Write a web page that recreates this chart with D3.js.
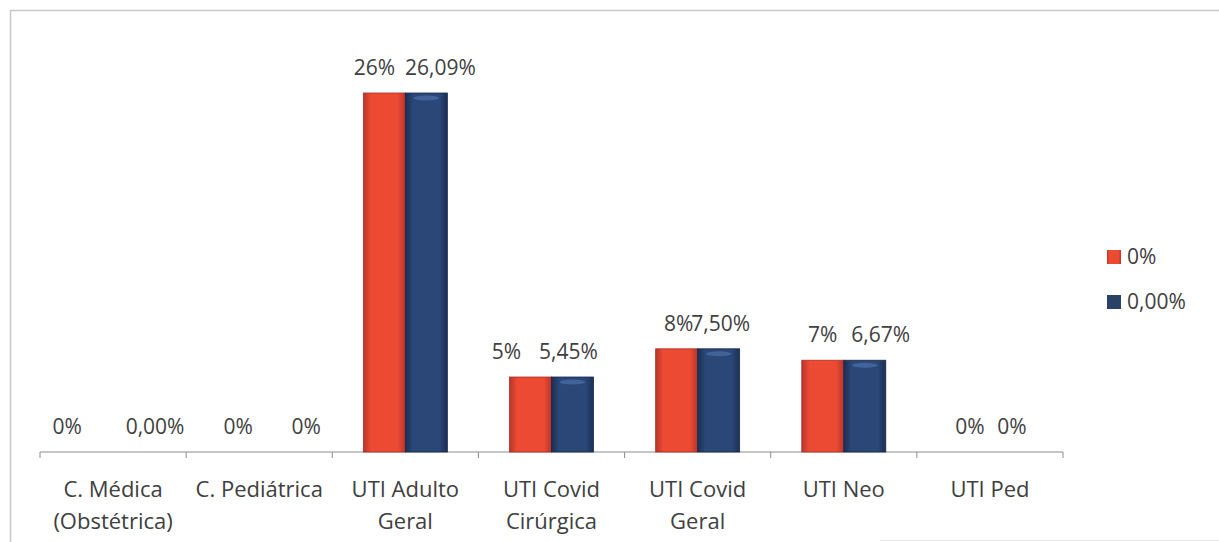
<!DOCTYPE html>
<html>
<head>
<meta charset="utf-8">
<script src="https://cdn.jsdelivr.net/npm/d3@7"></script>
<style>
  body { margin: 0; background: #fff; }
  svg text { font-family: "Open Sans", "Liberation Sans", sans-serif; fill: #404040; }
</style>
</head>
<body>
<div id="chartDiv"></div>
<script>
// categorias (eixo x)
const categories = [
  ["C. Médica", "(Obstétrica)"],
  ["C. Pediátrica"],
  ["UTI Adulto", "Geral"],
  ["UTI Covid", "Cirúrgica"],
  ["UTI Covid", "Geral"],
  ["UTI Neo"],
  ["UTI Ped"]
];
// series
const seriesNames = ["0%", "0,00%"];
const redValues = [0, 0, 26.09, 5.45, 7.50, 6.67, 0];
const blueValues = [0, 0, 26.09, 5.45, 7.50, 6.67, 0];
const redLabels = ["0%", "0%", "26%", "5%", "8%", "7%", "0%"];
const blueLabels = ["0,00%", "0%", "26,09%", "5,45%", "7,50%", "6,67%", "0%"];

const W = 1219, H = 542;
const margin = {top: 93, left: 40, right: 156, bottom: 90};

let svg = d3.select("#chartDiv").append("svg")
  .attr("width", W)
  .attr("height", H);

// gradientes estilo excel
const defs = svg.append("defs");
function grad(id, edge, mid) {
  let g = defs.append("linearGradient").attr("id", id)
    .attr("x1", 0).attr("x2", 1).attr("y1", 0).attr("y2", 0);
  g.append("stop").attr("offset", "0%").attr("stop-color", edge);
  g.append("stop").attr("offset", "18%").attr("stop-color", mid);
  g.append("stop").attr("offset", "82%").attr("stop-color", mid);
  g.append("stop").attr("offset", "100%").attr("stop-color", edge);
}
grad("gRed", "#b8352a", "#ec4a33");
grad("gBlue", "#1b2f52", "#2a4778");

// moldura
svg.append("path")
  .attr("d", `M10.5,${H} V10.5 H${W}`)
  .attr("fill", "none").attr("stroke", "#c8c8c8").attr("stroke-width", 1.5);
svg.append("line")
  .attr("x1", 880).attr("x2", W).attr("y1", 540.5).attr("y2", 540.5)
  .attr("stroke", "#e6e6e6");

let x = d3.scaleBand()
  .domain(d3.range(categories.length))
  .range([margin.left, W - margin.right])
  .paddingInner(0).paddingOuter(0);

let y = d3.scaleLinear()
  .domain([0, d3.max(blueValues)])
  .range([H - margin.bottom, margin.top]);

let inner = d3.scaleBand()
  .domain([0, 1])
  .range([0, x.bandwidth()])
  .paddingInner(0)
  .paddingOuter(0.74);

// eixo x
let xAxis = d3.axisBottom(x).tickSize(6).tickFormat("");
let gx = svg.append("g")
  .attr("transform", `translate(0, ${y(0)})`)
  .call(xAxis);
gx.select(".domain").attr("stroke", "#8c8c8c").attr("d", `M${x.range()[0]},6V0H${x.range()[1]}V6`);
gx.selectAll(".tick").remove();
// divisores entre categorias
gx.selectAll("line.div")
  .data(d3.range(1, categories.length))
  .enter().append("line")
  .attr("x1", d => x(d)).attr("x2", d => x(d))
  .attr("y1", 0).attr("y2", 6)
  .attr("stroke", "#8c8c8c");

// rotulos das categorias
svg.selectAll("text.cat")
  .data(categories)
  .enter().append("text")
  .attr("class", "cat")
  .attr("text-anchor", "middle")
  .attr("font-size", 22)
  .attr("x", (d, i) => x(i) + x.bandwidth() / 2)
  .attr("y", 497)
  .each(function (d) {
    d3.select(this).selectAll("tspan").data(d).enter().append("tspan")
      .attr("x", d3.select(this).attr("x"))
      .attr("dy", (t, j) => j === 0 ? 0 : 32)
      .text(t => t);
  });

const series = [
  {vals: redValues, labels: redLabels, fill: "url(#gRed)", key: 0},
  {vals: blueValues, labels: blueLabels, fill: "url(#gBlue)", key: 1}
];
// deslocamentos manuais dos rotulos (como no excel)
const nudge = [[-25, 21], [0, 26], [-10, 14], [-24, -4], [2, 2], [0, 16], [1, 1]];

series.forEach(s => {
  svg.selectAll("rect.bar" + s.key)
    .data(s.vals)
    .enter().append("rect")
    .attr("class", "bar" + s.key)
    .attr("x", (d, i) => x(i) + inner(s.key))
    .attr("width", inner.bandwidth())
    .attr("y", d => y(d))
    .attr("height", d => y(0) - y(d))
    .attr("fill", s.fill)
    .attr("stroke", s.key === 0 ? "#a83026" : "#17284a")
    .attr("stroke-width", 0.8);

  svg.selectAll("text.val" + s.key)
    .data(s.vals)
    .enter().append("text")
    .attr("class", "val" + s.key)
    .attr("text-anchor", "middle")
    .attr("font-size", 21)
    .attr("x", (d, i) => x(i) + inner(s.key) + inner.bandwidth() / 2 + nudge[i][s.key])
    .attr("y", d => y(d) - 18)
    .text((d, i) => s.labels[i]);
});

// destaque no topo das barras azuis
svg.selectAll("ellipse.hl")
  .data(blueValues.map((v, i) => ({v, i})).filter(d => d.v > 0))
  .enter().append("ellipse")
  .attr("cx", d => x(d.i) + inner(1) + inner.bandwidth() / 2)
  .attr("cy", d => y(d.v) + 5)
  .attr("rx", inner.bandwidth() * 0.3)
  .attr("ry", 2.5)
  .attr("fill", "#4d6fa6").attr("opacity", 0.7);

// legenda
let legend = svg.append("g").attr("transform", "translate(1107, 257)");
let items = legend.selectAll("g")
  .data(seriesNames)
  .enter().append("g")
  .attr("transform", (d, i) => `translate(0, ${i * 45})`);
items.append("rect")
  .attr("x", 0).attr("y", -7).attr("width", 14).attr("height", 14)
  .attr("fill", (d, i) => i === 0 ? "url(#gRed)" : "#2a4265");
items.append("text")
  .attr("x", 20).attr("y", 0).attr("dy", "0.35em")
  .attr("font-size", 21)
  .text(d => d);
</script>
</body>
</html>
